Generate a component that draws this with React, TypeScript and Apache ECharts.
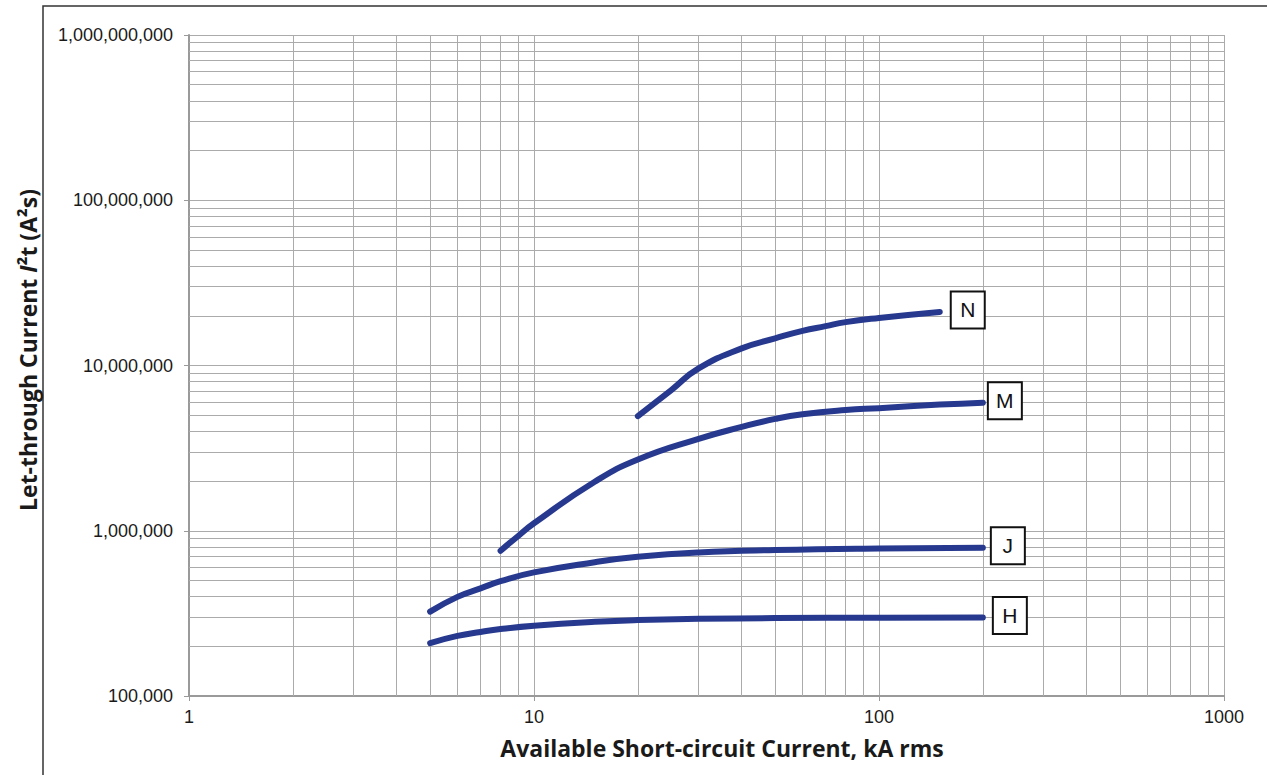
import React, { useEffect, useRef } from "react";
import * as echarts from "echarts";

// Available short-circuit current (kA rms) and let-through I²t (A²s)
const hX = [5, 6, 7, 8, 10, 15, 20, 30, 50, 100, 200];
const hY = [209000, 231000, 244000, 254000, 266000, 281000, 288000, 293000, 296000, 298000, 299000];

const jX = [5, 6, 7, 8, 10, 15, 20, 30, 50, 100, 200];
const jY = [324000, 398000, 448000, 495000, 560000, 645000, 695000, 738000, 764000, 782000, 790000];

const mX = [8, 9, 10, 15, 20, 30, 40, 50, 60, 80, 100, 150, 200];
const mY = [757000, 930000, 1110000, 1980000, 2700000, 3600000, 4250000, 4750000, 5070000, 5380000, 5520000, 5800000, 5960000];

const nX = [20, 25, 30, 40, 50, 60, 70, 80, 100, 150];
const nY = [4940000, 7100000, 9600000, 12700000, 14600000, 16200000, 17300000, 18300000, 19400000, 21100000];

const seriesNames = ["H", "J", "M", "N"];
const labelGaps = [11, 9, 6, 12];

// grid decades and minor multipliers
const xDecades = [1, 10, 100];
const yDecades = [100000, 1000000, 10000000, 100000000];
const minorMultipliers = [2, 3, 4, 5, 6, 7, 8, 9];

const xTitle = "Available Short-circuit Current, kA rms";

const LINE_COLOR = "#27398f";
const GRID_COLOR = "#ababab";
const FONT = "'Liberation Sans', Arial, sans-serif";
const TITLE_FONT = "'Open Sans', 'Noto Sans', sans-serif";

function pairs(xs: number[], ys: number[]) {
  return xs.map((x, i) => [x, ys[i]]);
}

export default function App() {
  const ref = useRef<HTMLDivElement>(null);

  useEffect(() => {
    if (!ref.current) return;
    const chart = echarts.init(ref.current, undefined, { renderer: "svg" });

    const xMinor: number[] = [];
    xDecades.forEach((d) => minorMultipliers.forEach((m) => xMinor.push(d * m)));
    const yMinor: number[] = [];
    yDecades.forEach((d) => minorMultipliers.forEach((m) => yMinor.push(d * m)));

    const datasets = [pairs(hX, hY), pairs(jX, jY), pairs(mX, mY), pairs(nX, nY)];

    const curveSeries = datasets.map((data, i) => ({
      name: seriesNames[i],
      type: "line",
      data,
      smooth: 0.5,
      showSymbol: false,
      symbol: "none",
      z: 3,
      lineStyle: { color: LINE_COLOR, width: 6, cap: "round", join: "round" },
      endLabel: {
        show: true,
        formatter: "{b|" + seriesNames[i] + "}",
        distance: labelGaps[i],
        offset: [0, -2],
        backgroundColor: "#ffffff",
        borderColor: "#111111",
        borderWidth: 2,
        padding: 0,
        rich: {
          b: {
            width: 32,
            height: 35,
            lineHeight: 35,
            align: "center",
            fontSize: 21,
            fontFamily: FONT,
            color: "#111111",
          },
        },
      },
    }));

    const gridSeries = {
      name: "grid",
      type: "line",
      data: [[1, 100000]],
      showSymbol: false,
      symbol: "none",
      silent: true,
      z: 1,
      lineStyle: { opacity: 0 },
      markLine: {
        silent: true,
        symbol: "none",
        z: 1,
        label: { show: false },
        emphasis: { disabled: true },
        lineStyle: { color: GRID_COLOR, width: 1, type: "solid" },
        data: [
          ...xMinor.map((v) => ({ xAxis: v })),
          ...yMinor.map((v) => ({ yAxis: v })),
        ],
      },
    };

    chart.setOption({
      animation: false,
      backgroundColor: "#ffffff",
      grid: { left: 189, top: 35, right: 43, bottom: 79, containLabel: false },
      xAxis: {
        type: "log",
        logBase: 10,
        min: 1,
        max: 1000,
        axisLine: { show: true, lineStyle: { color: "#9a9a9a", width: 2 } },
        axisTick: { show: true, length: 5, lineStyle: { color: "#9a9a9a", width: 1 } },
        axisLabel: {
          color: "#1a1a1a",
          fontSize: 18,
          fontFamily: FONT,
          margin: 12,
          formatter: (v: number) => String(Math.round(v)),
        },
        splitLine: { show: true, lineStyle: { color: GRID_COLOR, width: 1 } },
        minorTick: { show: false },
        minorSplitLine: { show: false },
      },
      yAxis: {
        type: "log",
        logBase: 10,
        min: 100000,
        max: 1000000000,
        axisLine: { show: true, lineStyle: { color: "#9a9a9a", width: 2 } },
        axisTick: { show: true, length: 5, lineStyle: { color: "#9a9a9a", width: 1 } },
        axisLabel: {
          color: "#1a1a1a",
          fontSize: 18,
          fontFamily: FONT,
          margin: 16,
          formatter: (v: number) => Math.round(v).toLocaleString("en-US"),
        },
        splitLine: { show: true, lineStyle: { color: GRID_COLOR, width: 1 } },
        minorTick: { show: false },
        minorSplitLine: { show: false },
      },
      graphic: [
        {
          type: "rect",
          silent: true,
          z: 0,
          shape: { x: 43, y: 6, width: 1400, height: 900 },
          style: { fill: "none", stroke: "#333333", lineWidth: 1.5 },
        },
        {
          type: "text",
          silent: true,
          x: 722,
          y: 748,
          style: {
            text: xTitle,
            font: "bold 23px " + TITLE_FONT,
            fill: "#1a1a1a",
            textAlign: "center",
            textVerticalAlign: "middle",
          },
        },
        {
          type: "text",
          silent: true,
          x: 28,
          y: 350,
          rotation: Math.PI / 2,
          style: {
            text: "Let-through Current {i|I}²t (A²s)",
            font: "bold 23px " + TITLE_FONT,
            fill: "#1a1a1a",
            textAlign: "center",
            textVerticalAlign: "middle",
            rich: {
              i: {
                fontStyle: "italic",
                fontWeight: "bold",
                fontSize: 23,
                fontFamily: TITLE_FONT,
                fill: "#1a1a1a",
              },
            },
          },
        },
      ],
      series: [gridSeries, ...curveSeries],
    });

    return () => chart.dispose();
  }, []);

  return (
    <div
      ref={ref}
      style={{ position: "fixed", left: 0, top: 0, width: 1267, height: 775, background: "#fff" }}
    />
  );
}
